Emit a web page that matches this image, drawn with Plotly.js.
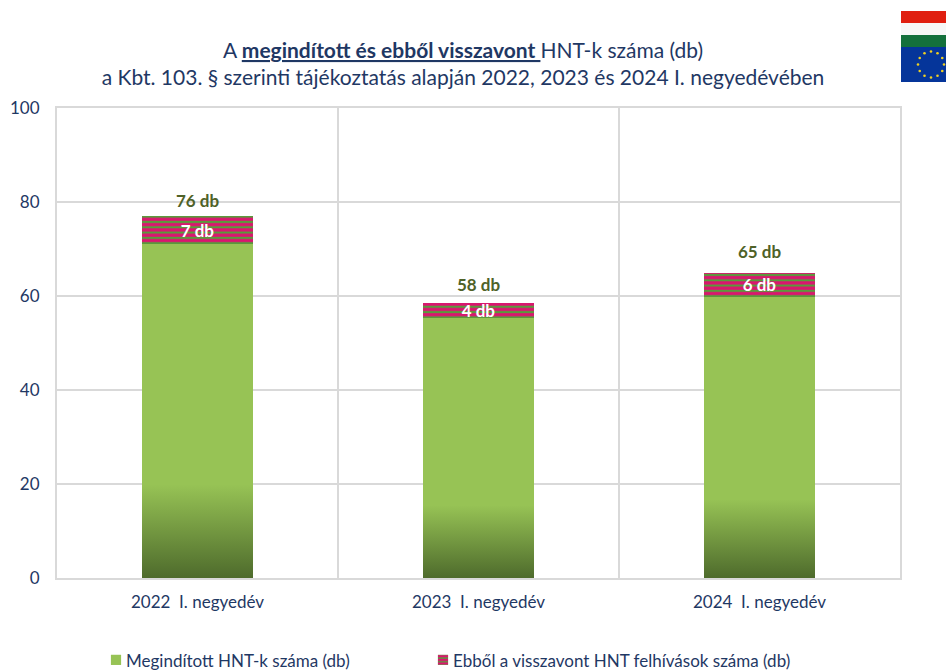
<!DOCTYPE html>
<html><head><meta charset="utf-8">
<script src="https://cdn.plot.ly/plotly-3.0.1.min.js"></script>
<style>html,body{margin:0;padding:0;background:#fff;overflow:hidden}#c{width:946px;height:670px}</style>
</head><body><div id="c"></div>
<script>
const categories = ['2022  I. negyedév','2023  I. negyedév','2024  I. negyedév'];
const started = [71, 55.3, 59.8];
const withdrawn = [6, 3.2, 5.1];
const withdrawnLabels = ['7 db','4 db','6 db'];
const totalLabels = ['76 db','58 db','65 db'];
const seriesNames = ['Megindított HNT-k száma (db)','Ebből a visszavont HNT felhívások száma (db)'];
const yTicks = [0,20,40,60,80,100];
const titleText = 'A <b><u>megindított és ebből visszavont </u></b>HNT-k száma (db)<br>a Kbt. 103. § szerinti tájékoztatás alapján 2022, 2023 és 2024 I. negyedévében';

const navy='#1f3864', W=946,H=670,L=57,R=900,T=108,B=578;
const labelShift=[3,6,9];
const px=x=>(x-L)/(R-L), py=y=>(B-y)/(B-T);
const rect=(x0,y0,x1,y1,c)=>({type:'rect',xref:'paper',yref:'paper',x0:px(x0),x1:px(x1),y0:py(y1),y1:py(y0),fillcolor:c,line:{width:0},layer:'above'});
const shapes=[rect(901,11,946,23,'#e01f10'),rect(901,23,946,35,'#f7f7f7'),rect(901,35,946,47,'#14703c'),rect(901,47,946,82,'#05359a')];
for(let i=0;i<12;i++){
  const a=i*Math.PI/6, cx=931+13*Math.sin(a), cy=64.5-13*Math.cos(a);
  const s=rect(cx-1.3,cy-1.3,cx+1.3,cy+1.3,'#f0d020'); s.type='circle'; shapes.push(s);
}
const traces=[
 {type:'bar',name:seriesNames[0],x:categories,y:started,marker:{color:'#97c355',line:{width:0}},hoverinfo:'none'},
 {type:'bar',name:seriesNames[1],x:categories,y:withdrawn,text:withdrawnLabels,textposition:'inside',insidetextanchor:'middle',textangle:0,constraintext:'none',
  insidetextfont:{family:'Lato',size:17,color:'#ffffff',weight:700},
  marker:{color:'#dc1470',line:{width:0},pattern:{shape:'-',bgcolor:'#dc1470',fgcolor:'#5a9a3c',size:5.3,solidity:0.4,fillmode:'replace'}},hoverinfo:'none'}
];
const annotations=categories.map((c,i)=>({x:c,y:started[i]+withdrawn[i],xref:'x',yref:'y',text:totalLabels[i],showarrow:false,yanchor:'bottom',yshift:labelShift[i],
  font:{family:'Lato',size:17,color:'#4f6228',weight:700}}));
const layout={
 width:W,height:H,margin:{l:L,r:W-R,t:T,b:H-B,autoexpand:false},paper_bgcolor:'#fff',plot_bgcolor:'#fff',
 font:{family:'Lato',color:navy},barmode:'stack',bargap:0.605,showlegend:true,
 title:{text:titleText,font:{family:'Lato',size:21,color:navy},x:463/W,xanchor:'center',y:1-58/H,yanchor:'top',automargin:false},
 xaxis:{type:'category',range:[-0.5,2.5],tickson:'boundaries',ticks:'',ticklabelstandoff:8,showgrid:true,gridcolor:'#d9d9d9',gridwidth:2,showline:true,linecolor:'#d9d9d9',linewidth:2,mirror:true,tickfont:{family:'Lato',size:17,color:navy}},
 yaxis:{range:[0,100],tickvals:yTicks,ticklabelstandoff:12,showgrid:true,gridcolor:'#d9d9d9',gridwidth:2,zeroline:false,showline:true,linecolor:'#d9d9d9',linewidth:2,mirror:true,ticks:'',tickfont:{family:'Lato',size:17,color:navy}},
 legend:{orientation:'h',x:0.05,xanchor:'left',y:-0.135,yanchor:'top',bgcolor:'rgba(0,0,0,0)',font:{family:'Lato',size:17,color:navy},itemwidth:30,traceorder:'normal'},
 annotations:annotations,shapes:shapes
};
Plotly.newPlot('c',traces,layout,{displayModeBar:false,staticPlot:true}).then(()=>{
  const svg=document.querySelector('#c .main-svg');
  const ns='http://www.w3.org/2000/svg';
  const g=document.createElementNS(ns,'linearGradient');
  g.setAttribute('id','greenFade');g.setAttribute('x1','0');g.setAttribute('x2','0');g.setAttribute('y1','0');g.setAttribute('y2','1');
  [[0,'#97c355'],[0.72,'#97c355'],[1,'#4e6b2c']].forEach(([o,c])=>{
    const s=document.createElementNS(ns,'stop');s.setAttribute('offset',o);s.setAttribute('stop-color',c);g.appendChild(s);
  });
  svg.querySelector('defs').appendChild(g);
  document.querySelectorAll('#c .barlayer .trace.bars:first-child .point path').forEach(p=>{p.style.fill='url(#greenFade)';});
  document.querySelectorAll('#c .legend [clip-path]').forEach(e=>e.removeAttribute('clip-path'));
  const targets=[126,453];
  document.querySelectorAll('#c .legend .traces').forEach((tr,i)=>{
    const t=tr.querySelector('text');
    const r=t.getBoundingClientRect();
    const m=(tr.getAttribute('transform')||'').match(/translate\(([-\d.]+)[ ,]*([-\d.]+)?/);
    const ox=m?+m[1]:0, oy=m&&m[2]?+m[2]:0;
    tr.setAttribute('transform',`translate(${ox+targets[i]-r.left},${oy+660-(r.top+r.bottom)/2})`);
    const tx=+t.getAttribute('x');
    tr.querySelectorAll('.legendpoints path').forEach(p=>{
      p.setAttribute('transform',`translate(${tx-10},0) scale(0.85)`);
    });
  });
});
</script></body></html>
